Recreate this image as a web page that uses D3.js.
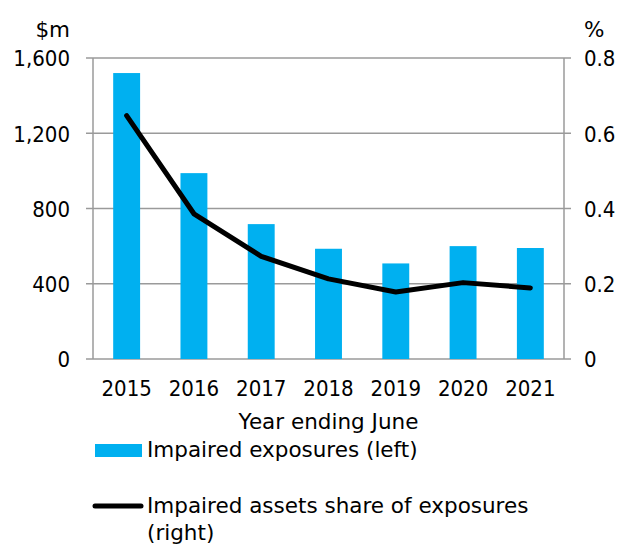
<!DOCTYPE html>
<html>
<head>
<meta charset="utf-8">
<script src="https://cdn.jsdelivr.net/npm/d3@7"></script>
<style>
  body { margin: 0; background: #fff; }
  text { font-family: "DejaVu Sans", sans-serif; fill: #000; }
  .num { font-family: "DejaVu Sans Condensed", "DejaVu Sans", sans-serif; font-stretch: condensed; font-size: 22px; }
  .lbl { font-size: 21.5px; }
</style>
</head>
<body>
<div id="chart"></div>
<script>
// data
const years = ["2015", "2016", "2017", "2018", "2019", "2020", "2021"];
const impairedExposures = [1520, 988, 717, 586, 508, 600, 590];   // $m, left
const impairedShare = [0.647, 0.386, 0.273, 0.213, 0.178, 0.203, 0.189]; // %, right
const leftTicks = [0, 400, 800, 1200, 1600];
const rightTicks = [0, 0.2, 0.4, 0.6, 0.8];

const W = 622, H = 545;
const margin = {top: 58, right: 58, bottom: 186, left: 93};
const width = W - margin.left - margin.right;
const height = H - margin.top - margin.bottom;

const svg = d3.select("#chart")
  .append("svg")
    .attr("width", W)
    .attr("height", H);

const g = svg.append("g")
  .attr("transform", `translate(${margin.left}, ${margin.top})`);

const xScale = d3.scaleBand().domain(years).range([0, width]).paddingInner(0.6).paddingOuter(0.3);
const yLeft = d3.scaleLinear().domain([0, 1600]).range([height, 0]);
const yRight = d3.scaleLinear().domain([0, 0.8]).range([height, 0]);

// gridlines
g.append("g")
  .selectAll("line")
  .data(leftTicks)
  .enter()
  .append("line")
    .attr("x1", -7)
    .attr("x2", width + 7)
    .attr("y1", d => yLeft(d))
    .attr("y2", d => yLeft(d))
    .style("stroke", "#9a9a9a")
    .style("stroke-width", 1.5);

// bars
g.selectAll("rect.bar")
  .data(years)
  .enter()
  .append("rect")
    .attr("class", "bar")
    .attr("x", d => xScale(d))
    .attr("width", xScale.bandwidth())
    .attr("y", (d, i) => yLeft(impairedExposures[i]))
    .attr("height", (d, i) => height - yLeft(impairedExposures[i]))
    .style("fill", "#00b0f0");

// axis lines (vertical)
g.append("line")
  .attr("x1", 0).attr("x2", 0).attr("y1", 0).attr("y2", height)
  .style("stroke", "#9a9a9a").style("stroke-width", 1.5);
g.append("line")
  .attr("x1", width).attr("x2", width).attr("y1", 0).attr("y2", height)
  .style("stroke", "#9a9a9a").style("stroke-width", 1.5);

// line
const line = d3.line()
  .x((d, i) => xScale(years[i]) + xScale.bandwidth() / 2)
  .y(d => yRight(d));

g.append("path")
  .datum(impairedShare)
  .attr("d", line)
  .style("fill", "none")
  .style("stroke", "#000")
  .style("stroke-width", 5)
  .style("stroke-linecap", "round")
  .style("stroke-linejoin", "round");

// left axis labels
const leftAxis = g.append("g")
  .call(d3.axisLeft(yLeft).tickValues(leftTicks).tickSize(0).tickPadding(23).tickFormat(d3.format(",")));
leftAxis.select(".domain").remove();
leftAxis.selectAll("text").attr("class", "num").attr("dy", "0.36em");
leftAxis.attr("font-size", null).attr("font-family", null);

// right axis labels
const rightAxis = g.append("g")
  .attr("transform", `translate(${width}, 0)`)
  .call(d3.axisRight(yRight).tickValues(rightTicks).tickSize(0).tickPadding(20).tickFormat(d => d === 0 ? "0" : d3.format(".1f")(d)));
rightAxis.select(".domain").remove();
rightAxis.selectAll("text").attr("class", "num").attr("dy", "0.36em");
rightAxis.attr("font-size", null).attr("font-family", null);

// x axis labels
const xAxis = g.append("g")
  .attr("transform", `translate(0, ${height})`)
  .call(d3.axisBottom(xScale).tickSize(0).tickPadding(21.5));
xAxis.select(".domain").remove();
xAxis.selectAll("text").attr("class", "num");
xAxis.attr("font-size", null).attr("font-family", null);

// unit labels
svg.append("text").attr("class", "lbl").attr("x", 70).attr("y", 37).attr("text-anchor", "end").text("$m");
svg.append("text").attr("class", "lbl").attr("x", 584).attr("y", 37).text("%");

// x title
svg.append("text").attr("class", "lbl").attr("x", margin.left + width / 2).attr("y", 429)
  .attr("text-anchor", "middle").text("Year ending June");

// legend
svg.append("rect").attr("x", 95).attr("y", 444).attr("width", 47).attr("height", 13)
  .style("fill", "#00b0f0");
svg.append("text").attr("class", "lbl").attr("x", 147).attr("y", 457).text("Impaired exposures (left)");

svg.append("line").attr("x1", 95).attr("x2", 141).attr("y1", 506).attr("y2", 506)
  .style("stroke", "#000").style("stroke-width", 5).style("stroke-linecap", "round");
svg.append("text").attr("class", "lbl").attr("x", 147).attr("y", 513).text("Impaired assets share of exposures");
svg.append("text").attr("class", "lbl").attr("x", 147).attr("y", 540).text("(right)");
</script>
</body>
</html>
